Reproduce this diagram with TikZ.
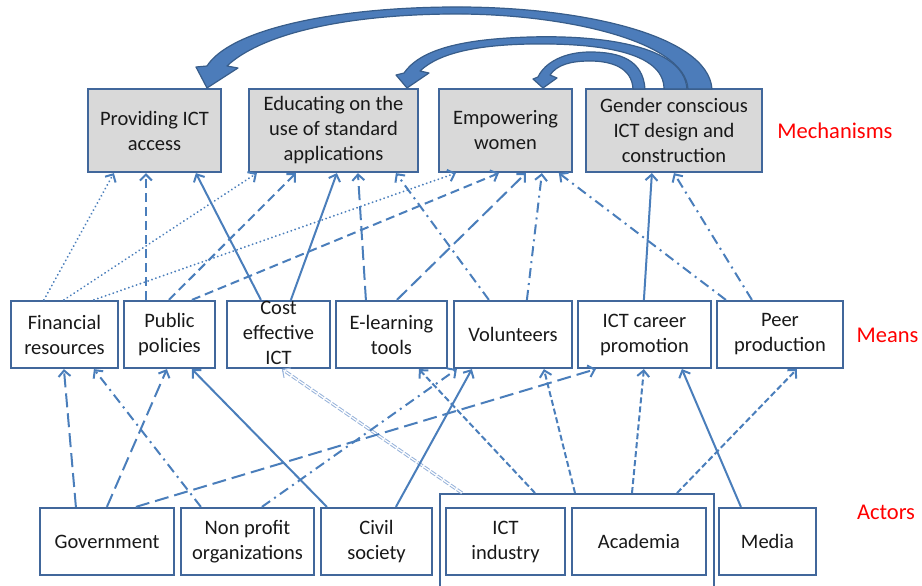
\documentclass[tikz,border=0pt]{standalone}
\usepackage{fontspec}
\setmainfont{Carlito}
\usetikzlibrary{arrows.meta,calc}
\definecolor{edgeblue}{RGB}{74,126,187}
\definecolor{boxline}{RGB}{65,103,155}
\definecolor{boxgray}{RGB}{217,217,217}
\definecolor{arrfill}{RGB}{76,124,186}
\definecolor{arrline}{RGB}{56,93,138}
\definecolor{paleblue}{RGB}{150,178,218}
\definecolor{labred}{RGB}{255,0,0}
\begin{document}
\begin{tikzpicture}[x=1pt,y=-1pt,
  box/.style={draw=boxline, line width=2.2pt, inner sep=0pt, align=center,
    font=\fontsize{20.5}{25}\selectfont, text=black!90},
  mech/.style={box, fill=boxgray, minimum height=83pt},
  mean/.style={box, fill=white, minimum height=67pt},
  lab/.style={font=\fontsize{22.5}{27}\selectfont, text=labred, inner sep=0pt},
  edge/.style={draw=edgeblue, line width=2pt, -{Straight Barb[length=6pt,width=12pt]}},
  dotline/.style={edge, dash pattern=on 0.1pt off 4pt, line cap=round},
  dashA/.style={edge, dash pattern=on 9pt off 5pt},
  longdash/.style={edge, dash pattern=on 14pt off 6pt},
  dashdot/.style={edge, dash pattern=on 10pt off 5pt on 2pt off 5pt},
  sysdash/.style={edge, dash pattern=on 6pt off 3pt},
  dbl/.style={edge, draw=paleblue, line width=1pt, double=white, double distance=1.2pt, dash pattern=on 6pt off 2pt},
  bigarrow/.style={fill=arrfill, draw=arrline, line width=1.2pt, line join=round}
]
\useasboundingbox (0,0) rectangle (922,586);
\clip (0,0) rectangle (922,586);

% Mechanisms
\node[mech, minimum width=133pt] (prov) at (154.5,130.5) {Providing ICT\\access};
\node[mech, minimum width=169pt] (edu) at (333.5,130.5) {Educating on the\\use of standard\\applications};
\node[mech, minimum width=133pt] (emp) at (505.5,130.5) {Empowering\\women};
\node[mech, minimum width=176pt] (gen) at (674,130.5) {Gender conscious\\ICT design and\\construction};

% Means
\node[mean, minimum width=107pt] (fin) at (64.5,334.5) {Financial\\resources};
\node[mean, minimum width=91pt] (pub) at (169.5,334.5) {Public\\policies};
\node[mean, minimum width=103pt] (cost) at (278.5,334.5) {\raisebox{-5pt}[0pt][0pt]{\begin{tabular}{@{}c@{}}Cost\\effective\\ICT\end{tabular}}};
\node[mean, minimum width=111pt] (elearn) at (391.5,334.5) {E-learning\\tools};
\node[mean, minimum width=118pt] (vol) at (513,334.5) {Volunteers};
\node[mean, minimum width=133pt] (career) at (644.5,334.5) {ICT career\\promotion};
\node[mean, minimum width=126pt] (peer) at (780,334.5) {Peer\\production};

% Actors
\node[draw=boxline, line width=2.2pt, inner sep=0pt, anchor=north west,
  minimum width=274pt, minimum height=130pt] (grp) at (439,493) {};
\node[mean, minimum width=134pt] (gov) at (107,541.5) {Government};
\node[mean, minimum width=133pt] (nonprofit) at (247.5,541.5) {Non profit\\organizations};
\node[mean, minimum width=111pt] (civil) at (376.5,541.5) {Civil\\society};
\node[mean, minimum width=119pt] (ict) at (505.5,541.5) {ICT\\industry};
\node[mean, minimum width=134pt] (acad) at (639,541.5) {Academia};
\node[mean, minimum width=97pt] (media) at (767.5,541.5) {Media};

% Row labels
\node[lab] (lmech) at (835,131) {Mechanisms};
\node[lab] (lmeans) at (887.5,335) {Means};
\node[lab] (lactors) at (886,512) {Actors};

% Means -> Mechanisms
\draw[dotline] ([xshift=34pt]fin.north west) -- ([xshift=27pt]prov.south west);
\draw[dashA] ([xshift=23pt]pub.north west) -- ([xshift=59pt]prov.south west);
\draw[edge] ([xshift=35pt]cost.north west) -- ([xshift=109pt]prov.south west);
\draw[dotline] ([xshift=54pt]fin.north west) -- ([xshift=9pt]edu.south west);
\draw[dashA] ([xshift=46pt]pub.north west) -- ([xshift=48pt]edu.south west);
\draw[dotline] ([xshift=84pt]fin.north west) -- ([xshift=18pt]emp.south west);
\draw[dashA] ([xshift=69pt]pub.north west) -- ([xshift=61pt]emp.south west);
\draw[edge] ([xshift=65pt]cost.north west) -- ([xshift=89pt]edu.south west);
\draw[longdash] ([xshift=31pt]elearn.north west) -- ([xshift=110pt]edu.south west);
\draw[longdash] ([xshift=62pt]elearn.north west) -- ([xshift=88pt]emp.south west);
\draw[dashdot] ([xshift=36pt]vol.north west) -- ([xshift=148pt]edu.south west);
\draw[dashdot] ([xshift=74pt]vol.north west) -- ([xshift=104pt]emp.south west);
\draw[dashdot] ([xshift=10pt]peer.north west) -- ([xshift=121pt]emp.south west);
\draw[edge] ([xshift=67pt]career.north west) -- ([xshift=67pt]gen.south west);
\draw[dashdot] ([xshift=36pt]peer.north west) -- ([xshift=89pt]gen.south west);

% Actors -> Means
\draw[longdash] ([xshift=37pt]gov.north west) -- ([xshift=54pt]fin.south west);
\draw[dashdot] ([xshift=21pt]nonprofit.north west) -- ([xshift=84pt]fin.south west);
\draw[longdash] ([xshift=68pt]gov.north west) -- ([xshift=44pt]pub.south west);
\draw[edge] ([xshift=7pt]civil.north west) -- ([xshift=69pt]pub.south west);
\draw[dbl] ([xshift=23pt]grp.north west) -- ([xshift=56pt]cost.south west);
\draw[longdash] ([xshift=97pt]gov.north west) -- ([xshift=19pt]career.south west);
\draw[dashdot] ([xshift=82pt]nonprofit.north west) -- ([xshift=4pt]vol.south west);
\draw[edge] ([xshift=76pt]civil.north west) -- ([xshift=19pt]vol.south west);
\draw[sysdash] ([xshift=96pt]grp.north west) -- ([xshift=84pt]elearn.south west);
\draw[sysdash] ([xshift=136pt]grp.north west) -- ([xshift=91pt]vol.south west);
\draw[sysdash] ([xshift=193pt]grp.north west) -- ([xshift=67pt]career.south west);
\draw[sysdash] ([xshift=238pt]grp.north west) -- ([xshift=81pt]peer.south west);
\draw[edge] ([xshift=23pt]media.north west) -- ([xshift=105pt]career.south west);

% Curved block arrows from Gender conscious ICT design
\filldraw[bigarrow]
  (712,89) .. controls (708,35) and (580,6) .. (450,7)
  .. controls (330,8) and (230,30) .. (207,66)
  -- (196,67) -- (207,88) -- (238,68) -- (227,66)
  .. controls (260,35) and (340,15) .. (450,14)
  .. controls (560,13) and (685,40) .. (688,89) -- cycle;
\filldraw[bigarrow]
  (687,89) .. controls (684,45) and (600,35) .. (530,37)
  .. controls (460,39) and (420,50) .. (404,73)
  -- (396,75) -- (407,88) -- (429,73) -- (420,71)
  .. controls (440,52) and (480,45) .. (530,44)
  .. controls (600,43) and (664,52) .. (664,89) -- cycle;
\filldraw[bigarrow]
  (645,89) .. controls (643,60) and (620,52) .. (590,52)
  .. controls (565,52) and (545,62) .. (538,77)
  -- (533,79) -- (543,88) -- (557,78) -- (550,75)
  .. controls (557,65) and (570,61) .. (590,61)
  .. controls (612,61) and (632,68) .. (633,89) -- cycle;
\end{tikzpicture}
\end{document}
